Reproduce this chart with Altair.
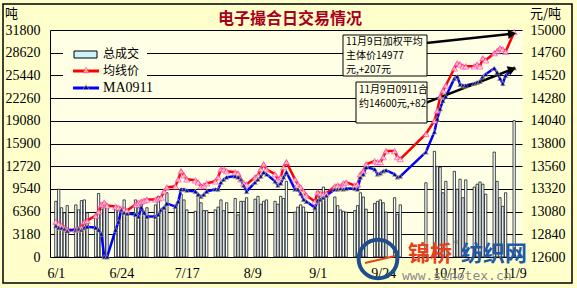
import math
import altair as alt
import pandas as pd

# ---------------- data ----------------
jun = [1,2,3,4,5,8,9,10,11,12,15,16,17,18,19,22,23,24,25,26,29,30]
jul = [1,2,3,6,7,8,9,10,13,14,15,16,17,20,21,22,23,24,27,28,29,30,31]
aug = [3,4,5,6,7,10,11,12,13,14,17,18,19,20,21,24,25,26,27,28,31]
sep = [1,2,3,4,7,8,9,10,11,14,15,16,17,18,21,22,23,24,25,28,29,30]
octo = [9,12,13,14,15,16,19,20,21,22,23,26,27,28,29,30]
nov = [2,3,4,5,6,9]

# 均线价 (weighted average price, right axis)
avg_price = [
    12973,12952,12931,12909,12888, 12888,12899,12909,12973,12984, 13037,13080,13155,13176,13144,
    13133,13123,13112,13101,13091, 13155,13176,
    13187,13197,13208, 13208,13219,13229,13293,13336, 13347,13421,13507,13464,13421,
    13411,13389,13347,13357,13379, 13400,13443,13528,13528,13507,
    13496,13485,13421,13379,13368, 13443,13464,13528,13581,13528, 13475,13421,13443,13549,13603,
    13421,13368,13336,13293,13251, 13187,
    13283,13272,13261,13272, 13347,13357,13347,13379,13389, 13357,13368,13475,13507,13581,
    13613,13603,13603,13656,13720, 13720,13656,13635,
    13901, 14040,14147,14296,14360,14413, 14595,14648,14637,14616,14616, 14616,14637,14616,14701,14680,
    14755,14776,14808,14797,14770, 14977,
]
# MA0911 (contract price, right axis)
ma0911 = [
    12931,12909,12909,12899,12877, 12888,12899,12888,12909,12920, 12909,12888,12845,12600,12600,
    12888,12973,13101,13069,13059, 13048,13027,
    13123,13069,13027, 13027,13048,13101,13123,13165, 13133,13187,13315,13315,13304,
    13293,13261,13240,13261,13293, 13315,13315,13389,13421,13443,
    13453,13443,13421,13357,13293, 13389,13421,13453,13496,13475, 13400,13357,13379,13443,13496,
    13315,13315,13272,13208,13187, 13123,
    13197,13208,13229,13251, 13315,13315,13325,13315,13325, 13325,13315,13443,13475,13549,
    13528,13475,13485,13507,13517, 13475,13443,13453,
    13709, 13923,14061,14168,14253,14296, 14488,14509,14424,14413,14413, 14435,14445,14456,14509,14531,
    14595,14552,14488,14435,14518, 14600,
]
# 总成交 (volume, left axis, tons)
volume = [
    7800,9500,6900,6200,7200,7300,6600,7900,8000,6200,5900,8900,6700,7300,7300,6900,6600,6200,8000,6400,8000,6900,
    7400,6300,6900,7300,8500,6500,6900,9000,7300,7800,8800,8000,6600,6400,8800,7600,6500,6500,6600,7000,8000,6500,7600,
    8200,5900,7800,7800,8300,8100,8500,7400,7800,8000,7800,7400,8500,8200,10600,6300,7000,7300,7000,6300,6600,
    9200,8800,9800,8900,8400,7200,6600,6400,6300,6500,7200,9000,8400,6700,7500,7800,8000,7600,6300,8300,6000,7300,
    10400,14800,12700,12600,9000,10600,12000,9500,10900,8300,10800,9800,10200,10500,10200,8800,
    14700,10600,8300,7100,9000,19100,
]

left_ticks = [0,3180,6360,9540,12720,15900,19080,22260,25440,28620,31800]
right_ticks = [12600,12840,13080,13320,13560,13800,14040,14280,14520,14760,15000]
x_tick_labels = ["6/1","6/24","7/17","8/9","9/1","9/24","10/17","11/9"]
x_tick_days = [0,23,46,69,92,115,138,161]

# annotation arrows (data space: day, price)
arrow_x1 = [129.3, 129.3]
arrow_y1 = [14861, 14221]
arrow_x2 = [160.3, 160.3]
arrow_y2 = [14960, 14585]

# ---------------- frame ----------------
dates = ([f"2009-06-{d:02d}" for d in jun] + [f"2009-07-{d:02d}" for d in jul] +
         [f"2009-08-{d:02d}" for d in aug] + [f"2009-09-{d:02d}" for d in sep] +
         [f"2009-10-{d:02d}" for d in octo] + [f"2009-11-{d:02d}" for d in nov])
df = pd.DataFrame({"date": pd.to_datetime(dates), "vol": volume, "avg": avg_price, "ma": ma0911})
df["day"] = (df["date"] - pd.Timestamp("2009-06-01")).dt.days

W, H = 472, 227
arr = pd.DataFrame({"x1": arrow_x1, "y1": arrow_y1, "x2": arrow_x2, "y2": arrow_y2})
px_per_day = W / 162.3
ang = []
for a, b, c, d in zip(arrow_x1, arrow_y1, arrow_x2, arrow_y2):
    dx = (c - a) * px_per_day
    dy = -(d - b) / 2400 * H
    ang.append((math.degrees(math.atan2(dy, dx)) + 360) % 360)
arr["ang"] = ang

SERIF = "Liberation Serif"
CJK = "Noto Sans CJK SC"

label_expr = "[" + ",".join(f"'{t}'" for t in x_tick_labels) + "][round(datum.value/23)]"
X = alt.X("day:Q", scale=alt.Scale(domain=[-0.3, 162], nice=False, zero=False),
          axis=alt.Axis(values=x_tick_days, labelExpr=label_expr, title=None, grid=False,
                        ticks=False, domain=False, labelFont=SERIF, labelFontSize=14,
                        labelColor="black", labelPadding=9))

left_axis = alt.Axis(values=left_ticks, format="d", grid=True, gridColor="black", gridOpacity=1,
                     gridWidth=1, domainColor="black", domainWidth=1, ticks=False, title=None,
                     labelFont=SERIF, labelFontSize=14, labelColor="black", labelPadding=10)
right_scale = alt.Scale(domain=[12600, 15000], nice=False, zero=False)
right_axis = alt.Axis(orient="right", values=right_ticks, format="d", grid=False, domain=False,
                      ticks=False, title=None, labelFont=SERIF, labelFontSize=14,
                      labelColor="black", labelPadding=8)

one = pd.DataFrame({"a": [0]})

frame = alt.Chart(one).mark_rect(fillOpacity=0, stroke="black", strokeWidth=1.5).encode(
    x=alt.value(-47), x2=alt.value(522), y=alt.value(-26), y2=alt.value(253))

bars = alt.Chart(df).mark_bar(size=2.3, fill="#F2FCFF", stroke="black", strokeWidth=0.7).encode(
    x=X, y=alt.Y("vol:Q", scale=alt.Scale(domain=[0, 31800], nice=False), axis=left_axis))

legend_bg = alt.Chart(one).mark_rect(fill="#FFFFE6").encode(
    x=alt.value(13), x2=alt.value(97), y=alt.value(15), y2=alt.value(66))
leg_swatch = alt.Chart(one).mark_rect(fill="#CCF4FA", stroke="black", strokeWidth=1).encode(
    x=alt.value(24), x2=alt.value(47), y=alt.value(21), y2=alt.value(28))
leg_red = alt.Chart(one).mark_rule(color="#FF0000", strokeWidth=3).encode(
    x=alt.value(23), x2=alt.value(49), y=alt.value(41))
leg_red_pt = alt.Chart(one).mark_point(shape="triangle-up", size=40, filled=True, fill="#FFFF66",
                                       stroke="#FF33CC", strokeWidth=1).encode(
    x=alt.value(36), y=alt.value(40))
leg_blue = alt.Chart(one).mark_rule(color="#0000FF", strokeWidth=3).encode(
    x=alt.value(23), x2=alt.value(49), y=alt.value(58))
leg_blue_pt = alt.Chart(one).mark_point(shape="triangle-up", size=40, filled=True, fill="#000099",
                                        stroke="#FFFF66", strokeWidth=0.6).encode(
    x=alt.value(36), y=alt.value(57))


def txt(s, x, y, size=10.0, color="black", font=CJK, weight="normal", align="left"):
    return alt.Chart(one).mark_text(text=s, font=font, fontSize=size, fontWeight=weight,
                                    align=align, baseline="middle", color=color).encode(
        x=alt.value(x), y=alt.value(y))


leg_t1 = txt("总成交", 53, 24, size=12)
leg_t2 = txt("均线价", 53, 41, size=12)
leg_t3 = txt("MA0911", 53, 58, size=14, font=SERIF)

red_line = alt.Chart(df).mark_line(color="#FF0000", strokeWidth=2.5).encode(
    x=X, y=alt.Y("avg:Q", scale=right_scale, axis=right_axis))
red_pts = alt.Chart(df).mark_point(shape="triangle-up", size=38, filled=True, fill="#FFFFCC",
                                   stroke="#FF33CC", strokeWidth=1).encode(
    x=X, y=alt.Y("avg:Q", scale=right_scale, axis=right_axis))
blue_line = alt.Chart(df).mark_line(color="#0000FF", strokeWidth=2.5).encode(
    x=X, y=alt.Y("ma:Q", scale=right_scale, axis=right_axis))
blue_pts = alt.Chart(df).mark_point(shape="triangle-up", size=32, filled=True, fill="#000099",
                                    stroke="#FFFF66", strokeWidth=0.6).encode(
    x=X, y=alt.Y("ma:Q", scale=right_scale, axis=right_axis))
arrows = alt.Chart(arr).mark_rule(color="black", strokeWidth=2.5).encode(
    x=alt.X("x1:Q"), x2="x2:Q", y=alt.Y("y1:Q", scale=right_scale, axis=right_axis), y2="y2:Q")
heads = alt.Chart(arr).mark_point(shape="triangle-right", size=90, filled=True, color="black",
                                  opacity=1).encode(
    x=alt.X("x2:Q"), y=alt.Y("y2:Q", scale=right_scale, axis=right_axis),
    angle=alt.Angle("ang:Q", scale=None))

price = alt.layer(red_line, blue_line, arrows, red_pts, blue_pts, heads)

box1 = alt.Chart(one).mark_rect(fill="#FFFFE6", stroke="black", strokeWidth=1).encode(
    x=alt.value(293), x2=alt.value(377), y=alt.value(5), y2=alt.value(46))
box2 = alt.Chart(one).mark_rect(fill="#FFFFE6", stroke="black", strokeWidth=1).encode(
    x=alt.value(306), x2=alt.value(377), y=alt.value(52), y2=alt.value(93))

notes = [
    txt("11月9日加权平均", 296, 12),
    txt("主体价14977", 296, 26),
    txt("元,+207元", 296, 40),
    txt("11月9日0911合", 309, 60),
    txt("约14600元,+82", 309, 74),
]

title = txt("电子撮合日交易情况", 240, -11, size=16, color="#A8001C", weight="bold", align="center")
unit_l = txt("吨", -45, -16, size=13)
unit_r = txt("元/吨", 480, -16, size=13)

logo = alt.Chart(one).mark_point(shape="circle", size=1500, filled=False, stroke="#1F4E8C",
                                 strokeWidth=4, opacity=1).encode(x=alt.value(328), y=alt.value(229))
logo_sw = alt.Chart(one).mark_rule(color="#E8401C", strokeWidth=2).encode(
    x=alt.value(315), x2=alt.value(345), y=alt.value(233), y2=alt.value(226))
wm1 = txt("锦桥", 358, 224, size=22, color="#E8401C", weight="bold")
wm_r = txt("®", 404, 214, size=9, color="#666666")
wm2 = txt("纺织网", 411, 224, size=22, color="#1F5AA6", weight="bold")
wm3 = txt("www.sinotex.cn", 352, 246, size=13, color="#8A8A8A", font="DejaVu Sans Mono")

left_part = alt.layer(frame, bars, legend_bg, leg_swatch, leg_red, leg_blue, leg_red_pt, leg_blue_pt,
                      leg_t1, leg_t2, leg_t3)

chart = alt.layer(
    left_part, price, box1, box2, *notes, title, unit_l, unit_r, logo, logo_sw, wm1, wm_r, wm2, wm3
).resolve_scale(y="independent").properties(
    width=W, height=H,
    autosize=alt.AutoSizeParams(type="none"),
    padding={"left": 50, "top": 30, "right": 55, "bottom": 31},
    background="#FFFFCC",
).configure_view(fill="#FFFFE6", stroke="transparent")

chart.save("out.html", embed_options={"renderer": "svg", "actions": False})
